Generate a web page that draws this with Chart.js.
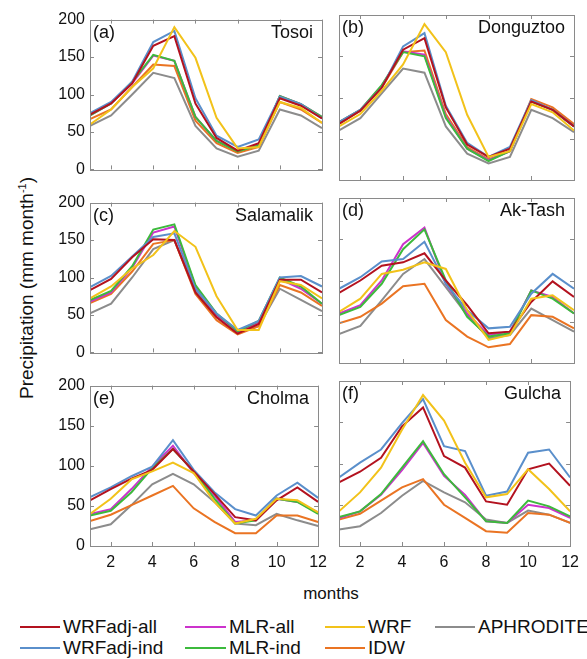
<!DOCTYPE html>
<html>
<head>
<meta charset="utf-8">
<script src="https://cdn.jsdelivr.net/npm/chart.js@4.4.1/dist/chart.umd.min.js"></script>
<style>
  html, body { margin: 0; padding: 0; background: #fff; }
  body { width: 587px; height: 659px; position: relative; overflow: hidden;
         font-family: "Liberation Sans", Arial, sans-serif; color: #111; }
  .panel { position: absolute; }
  #ytitle { position: absolute; left: 27px; top: 288px; transform: translate(-50%, -50%) rotate(-90deg);
            font-size: 19px; white-space: nowrap; }
  #ytitle sup { font-size: 11px; }
  #xtitle { position: absolute; left: 331px; top: 594px; transform: translate(-50%, -50%); font-size: 17px; }
  .leg { position: absolute; display: flex; align-items: center; font-size: 19px; white-space: nowrap; }
  .leg span.ln { display: inline-block; height: 2px; margin-right: 3px; }
</style>
</head>
<body>
<div id="ytitle">Precipitation (mm month<sup>-1</sup>)</div>
<div id="xtitle">months</div>

<script>
const months = [1, 2, 3, 4, 5, 6, 7, 8, 9, 10, 11, 12];
const xTicks = [2, 4, 6, 8, 10, 12];
const yTicks = [0, 50, 100, 150, 200];
const stations = ['Tosoi', 'Donguztoo', 'Salamalik', 'Ak-Tash', 'Cholma', 'Gulcha'];
const panelTags = ['(a)', '(b)', '(c)', '(d)', '(e)', '(f)'];

// one row per station, in the order of stations
const wrfAdjAll = [
  [73, 88, 115, 165, 178, 88, 42, 25, 35, 95, 85, 68],
  [68, 84, 112, 158, 172, 88, 43, 28, 38, 95, 85, 65],
  [83, 98, 127, 151, 150, 80, 47, 25, 38, 97, 97, 80],
  [85, 100, 118, 122, 133, 100, 70, 36, 38, 74, 99, 80],
  [57, 71, 84, 95, 121, 93, 65, 36, 32, 57, 73, 55],
  [77, 90, 107, 145, 168, 109, 95, 54, 50, 93, 100, 73]
];
const wrfAdjInd = [
  [75, 90, 117, 170, 185, 95, 45, 30, 40, 97, 87, 68],
  [70, 85, 112, 162, 178, 90, 45, 28, 40, 97, 85, 65],
  [87, 102, 128, 154, 159, 85, 52, 30, 42, 100, 102, 88],
  [90, 104, 123, 126, 147, 96, 64, 42, 44, 84, 108, 90],
  [61, 73, 87, 99, 132, 95, 67, 46, 38, 63, 79, 60],
  [83, 101, 117, 149, 178, 121, 115, 61, 66, 113, 117, 83]
];
const mlrAll = [
  [72, 88, 115, 152, 145, 70, 38, 25, 33, 98, 87, 70],
  [70, 85, 114, 156, 152, 77, 38, 24, 35, 96, 85, 65],
  [68, 80, 113, 160, 168, 88, 50, 27, 40, 98, 85, 65],
  [60, 70, 100, 144, 164, 96, 60, 34, 38, 88, 80, 60],
  [40, 46, 71, 99, 125, 91, 63, 30, 32, 59, 55, 42],
  [34, 42, 62, 92, 125, 85, 62, 30, 28, 50, 46, 34]
];
const mlrInd = [
  [72, 88, 117, 153, 145, 70, 38, 24, 32, 98, 87, 70],
  [70, 85, 115, 155, 150, 75, 38, 23, 35, 95, 85, 65],
  [70, 82, 115, 164, 171, 90, 52, 28, 42, 100, 88, 65],
  [58, 68, 96, 138, 162, 100, 56, 32, 36, 88, 78, 60],
  [38, 44, 67, 97, 121, 93, 59, 28, 32, 59, 55, 40],
  [35, 42, 63, 95, 127, 87, 59, 30, 28, 55, 48, 36]
];
const wrf = [
  [60, 80, 110, 135, 190, 149, 69, 28, 30, 90, 82, 62],
  [65, 80, 108, 140, 189, 155, 79, 28, 35, 92, 82, 60],
  [72, 88, 112, 130, 162, 141, 75, 30, 30, 95, 90, 72],
  [62, 78, 108, 113, 122, 114, 64, 28, 34, 78, 82, 64],
  [40, 59, 83, 93, 104, 91, 55, 28, 34, 59, 57, 42],
  [42, 65, 95, 141, 183, 152, 101, 59, 63, 93, 69, 42]
];
const idw = [
  [67, 80, 110, 140, 138, 65, 35, 22, 30, 90, 80, 62],
  [68, 84, 112, 155, 157, 80, 40, 25, 35, 98, 88, 68],
  [66, 78, 108, 145, 150, 78, 43, 24, 35, 90, 80, 62],
  [48, 56, 72, 93, 96, 52, 32, 19, 23, 58, 56, 42],
  [31, 39, 51, 63, 75, 47, 30, 16, 16, 38, 38, 30],
  [32, 39, 55, 71, 81, 50, 34, 18, 16, 40, 38, 28]
];
const aphrodite = [
  [58, 72, 100, 129, 122, 58, 28, 17, 25, 80, 72, 55],
  [60, 75, 105, 135, 130, 65, 32, 20, 28, 85, 75, 58],
  [52, 65, 100, 138, 150, 82, 48, 26, 35, 85, 70, 55],
  [35, 45, 76, 108, 126, 92, 58, 30, 34, 66, 52, 38],
  [21, 27, 51, 77, 90, 77, 55, 28, 26, 40, 32, 25],
  [20, 24, 40, 61, 79, 65, 53, 32, 28, 43, 38, 28]
];

const seriesNames = ['WRFadj-all', 'WRFadj-ind', 'MLR-all', 'MLR-ind', 'WRF', 'IDW', 'APHRODITE'];
const seriesData = [wrfAdjAll, wrfAdjInd, mlrAll, mlrInd, wrf, idw, aphrodite];
const seriesColors = ['#b3121f', '#5a8fcb', '#cc33cc', '#3cba3c', '#f2c21a', '#ea7423', '#8c8c8c'];
// which series sits on top (lower = drawn later)
const seriesOrder = [1, 2, 4, 3, 0, 5, 6];

// plot frames
const colLeft = [90, 339];
const colWidth = [232, 235];
const rowTop = [15, 198, 381];
const plotHeight = 165;

const frameColor = '#8a8a8a';
const tickFont = { family: '"Liberation Sans", Arial, sans-serif', size: 16 };

const framePlugin = {
  id: 'frame',
  afterDraw(chart) {
    const { ctx, chartArea: a, scales } = chart;
    const idx = chart.options.plugins.frame.index;
    ctx.save();
    ctx.strokeStyle = frameColor;
    ctx.lineWidth = 1;
    ctx.strokeRect(Math.round(a.left) + 0.5, Math.round(a.top) + 0.5,
                   Math.round(a.right - a.left), Math.round(a.bottom - a.top));
    ctx.beginPath();
    scales.x.ticks.forEach(t => {
      const px = Math.round(scales.x.getPixelForValue(t.value)) + 0.5;
      ctx.moveTo(px, a.bottom); ctx.lineTo(px, a.bottom - 4);
      ctx.moveTo(px, a.top); ctx.lineTo(px, a.top + 4);
    });
    scales.y.ticks.forEach(t => {
      const py = Math.round(scales.y.getPixelForValue(t.value)) + 0.5;
      ctx.moveTo(a.left, py); ctx.lineTo(a.left + 4, py);
      ctx.moveTo(a.right, py); ctx.lineTo(a.right - 4, py);
    });
    ctx.stroke();
    ctx.fillStyle = '#111';
    ctx.font = '18px "Liberation Sans", Arial, sans-serif';
    ctx.textBaseline = 'middle';
    ctx.textAlign = 'left';
    ctx.fillText(panelTags[idx], a.left + 3, a.top + 13);
    ctx.textAlign = 'right';
    ctx.fillText(stations[idx], a.right - 9, a.top + 13);
    ctx.restore();
  }
};

stations.forEach((name, i) => {
  const row = Math.floor(i / 2), col = i % 2;
  const ml = col === 0 ? 42 : 4, mt = 10, mr = 12, mb = row === 2 ? 28 : 4;
  const w = colWidth[col] + ml + mr, h = plotHeight + mt + mb;

  const box = document.createElement('div');
  box.className = 'panel';
  box.style.left = (colLeft[col] - ml) + 'px';
  box.style.top = (rowTop[row] - mt) + 'px';
  box.style.width = w + 'px';
  box.style.height = h + 'px';
  const canvas = document.createElement('canvas');
  box.appendChild(canvas);
  document.body.appendChild(box);

  const datasets = seriesNames.map((s, k) => ({
    label: s,
    data: months.map((m, j) => ({ x: m, y: seriesData[k][i][j] })),
    borderColor: seriesColors[k],
    backgroundColor: seriesColors[k],
    borderWidth: 2,
    pointRadius: 0,
    tension: 0,
    order: seriesOrder[k]
  }));

  new Chart(canvas, {
    type: 'line',
    data: { datasets },
    options: {
      responsive: true,
      maintainAspectRatio: false,
      animation: false,
      layout: { padding: { top: mt, right: mr, left: 0, bottom: 0 } },
      plugins: { legend: { display: false }, tooltip: { enabled: false }, frame: { index: i } },
      scales: {
        x: {
          type: 'linear', min: 1, max: 12,
          grid: { display: false, drawTicks: false }, border: { display: false },
          afterBuildTicks: s => { s.ticks = xTicks.map(v => ({ value: v })); },
          afterFit: s => { s.height = mb; },
          ticks: { display: row === 2, color: '#111', font: tickFont, padding: 7, maxRotation: 0 }
        },
        y: {
          min: 0, max: 200,
          grid: { display: false, drawTicks: false }, border: { display: false },
          afterBuildTicks: s => { s.ticks = yTicks.map(v => ({ value: v })); },
          afterFit: s => { s.width = ml; },
          ticks: { display: col === 0, color: '#111', font: tickFont, padding: 5 }
        }
      }
    },
    plugins: [framePlugin]
  });
});

// legend, column-major like the figure
const legendSpots = [
  [20, 627, 40], [20, 648, 40], [185, 627, 41], [185, 648, 41],
  [325, 627, 40], [325, 648, 40], [435, 627, 40]
];
seriesNames.forEach((s, k) => {
  const [x, y, len] = legendSpots[k];
  const el = document.createElement('div');
  el.className = 'leg';
  el.style.left = x + 'px';
  el.style.top = (y - 11) + 'px';
  el.style.height = '22px';
  const ln = document.createElement('span');
  ln.className = 'ln';
  ln.style.width = len + 'px';
  ln.style.background = seriesColors[k];
  el.appendChild(ln);
  el.appendChild(document.createTextNode(s));
  document.body.appendChild(el);
});
</script>
</body>
</html>
